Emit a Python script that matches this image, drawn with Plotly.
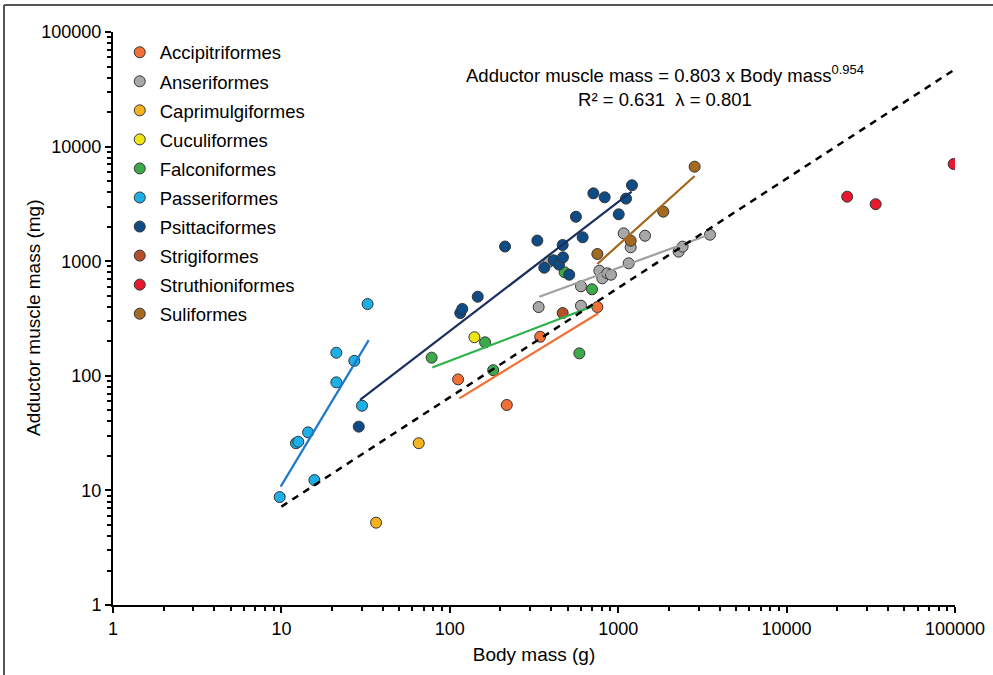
import plotly.graph_objects as go

# ---------------- data (body mass g, adductor muscle mass mg) ----------------
orders = ["Accipitriformes", "Anseriformes", "Caprimulgiformes", "Cuculiformes",
          "Falconiformes", "Passeriformes", "Psittaciformes", "Strigiformes",
          "Struthioniformes", "Suliformes"]

acc_x = [112, 218, 344, 752]
acc_y = [93, 55.6, 219, 398]

ans_x = [337, 388, 601, 601, 773, 805, 862, 906, 1078, 1154, 1186, 1443, 2285, 2414, 3508]
ans_y = [398, 990, 604, 409, 826, 709, 784, 762, 1750, 959, 1322, 1668, 1212, 1340, 1703]

cap_x = [36.5, 65.4]
cap_y = [5.23, 25.8]

cuc_x = [140]
cuc_y = [217]

fal_x = [78, 162, 181, 481, 588, 699]
fal_y = [144, 196, 112, 800, 157, 569]

pas_x = [9.77, 12.2, 12.6, 14.4, 15.7, 21.2, 21.2, 27.1, 30.1, 32.5]
pas_y = [8.75, 25.8, 26.6, 32.1, 12.3, 159, 87.7, 135, 54.8, 423]

psi_x = [28.8, 115.4, 118.6, 146.5, 212.8, 331, 364, 414, 445, 470, 468, 512,
         561, 615, 712, 831, 1007, 1113, 1207]
psi_y = [36.0, 353, 383, 490, 1343, 1514, 877, 1018, 934, 1082, 1385, 762,
         2443, 1617, 3910, 3611, 2566, 3516, 4603]

str_x = [468]
str_y = [353]

stru_x = [22900, 33800, 98200]
stru_y = [3656, 3142, 7050]

sul_x = [752, 1186, 1853, 2844]
sul_y = [1156, 1510, 2705, 6680]

# per-order fitted lines (endpoints)
acc_fit_x = [114, 762]
acc_fit_y = [63.6, 351]
ans_fit_x = [340, 3428]
ans_fit_y = [490, 1693]
fal_fit_x = [78.7, 718]
fal_fit_y = [118, 409]
pas_fit_x = [9.9, 33]
pas_fit_y = [10.8, 205]
psi_fit_x = [29.3, 1202]
psi_fit_y = [61.5, 4042]
sul_fit_x = [752, 2844]
sul_fit_y = [946, 5538]

# overall allometric relationship
coef_a = 0.803
coef_b = 0.954
all_fit_x = [10, 97000]
all_fit_y = [coef_a * v ** coef_b for v in all_fit_x]

tick_vals = [1, 10, 100, 1000, 10000, 100000]
tick_text = ["1", "10", "100", "1000", "10000", "100000"]
minor_vals = [m * 10 ** e for e in range(0, 5) for m in range(2, 10)]

# ---------------- styles ----------------
point_colors = {
    "Accipitriformes": "#F26F35",
    "Anseriformes": "#A8A8A8",
    "Caprimulgiformes": "#F5B120",
    "Cuculiformes": "#EEE41A",
    "Falconiformes": "#3DAA4A",
    "Passeriformes": "#1DAFE6",
    "Psittaciformes": "#0F4C85",
    "Strigiformes": "#B4502A",
    "Struthioniformes": "#E8182F",
    "Suliformes": "#A36A20",
}
series = {
    "Accipitriformes": (acc_x, acc_y),
    "Anseriformes": (ans_x, ans_y),
    "Caprimulgiformes": (cap_x, cap_y),
    "Cuculiformes": (cuc_x, cuc_y),
    "Falconiformes": (fal_x, fal_y),
    "Passeriformes": (pas_x, pas_y),
    "Psittaciformes": (psi_x, psi_y),
    "Strigiformes": (str_x, str_y),
    "Struthioniformes": (stru_x, stru_y),
    "Suliformes": (sul_x, sul_y),
}
fits = [
    (acc_fit_x, acc_fit_y, "#F26F35"),
    (ans_fit_x, ans_fit_y, "#A0A0A0"),
    (fal_fit_x, fal_fit_y, "#2DB24A"),
    (pas_fit_x, pas_fit_y, "#1F78C8"),
    (psi_fit_x, psi_fit_y, "#1B2F5E"),
    (sul_fit_x, sul_fit_y, "#A5651A"),
]

FONT = "Arial, 'Liberation Sans', sans-serif"
PW, PH = 842, 573  # plot area size in px (for paper-coordinate placement)

fig = go.Figure()
for i, name in enumerate(orders):
    xs, ys = series[name]
    fig.add_trace(go.Scatter(
        x=xs, y=ys, mode="markers", name=name, legendgroup=f"g{i}",
        marker=dict(size=11, color=point_colors[name],
                    line=dict(color="#333333", width=1)),
    ))

for fx, fy, col in fits:
    fig.add_trace(go.Scatter(x=fx, y=fy, mode="lines", showlegend=False,
                             line=dict(color=col, width=2.2), hoverinfo="skip"))

fig.add_trace(go.Scatter(x=all_fit_x, y=all_fit_y, mode="lines", showlegend=False,
                         line=dict(color="black", width=2.5, dash="7px,6px"),
                         hoverinfo="skip"))

axis_common = dict(
    type="log", range=[0, 5], showgrid=False, zeroline=False,
    showline=True, linecolor="black", linewidth=2,
    ticks="outside", ticklen=6, tickwidth=1.5, tickcolor="black",
    tickvals=tick_vals, ticktext=tick_text,
    tickfont=dict(family=FONT, size=18, color="black"),
    minor=dict(tickvals=minor_vals, ticks="outside", ticklen=4,
               tickwidth=1.5, tickcolor="black", showgrid=False),
    automargin=False,
)

fig.update_xaxes(**axis_common,
                 title=dict(text="Body mass (g)", standoff=10,
                            font=dict(family=FONT, size=19, color="black")))
fig.update_yaxes(**axis_common)

# y-axis title placed explicitly
fig.add_annotation(
    xref="paper", yref="paper", x=(33 - 113) / PW, y=(605 - 318) / PH,
    text="Adductor muscle mass (mg)", textangle=-90, showarrow=False,
    xanchor="center", yanchor="middle",
    font=dict(family=FONT, size=19, color="black"),
)

fig.add_annotation(
    xref="paper", yref="paper", x=(665 - 113) / PW, y=(605 - 86) / PH,
    text="Adductor muscle mass = 0.803 x Body mass<sup>0.954</sup><br>R² = 0.631  λ = 0.801",
    showarrow=False, align="center", xanchor="center", yanchor="middle",
    font=dict(family=FONT, size=18.5, color="black"),
)

# outer frame (top and left edges)
fig.add_shape(type="line", xref="paper", yref="paper",
              x0=-109 / PW, x1=880 / PW, y0=600 / PH, y1=600 / PH,
              line=dict(color="#555555", width=2))
fig.add_shape(type="line", xref="paper", yref="paper",
              x0=-109 / PW, x1=-109 / PW, y0=600 / PH, y1=-75 / PH,
              line=dict(color="#555555", width=2))

fig.update_layout(
    width=993, height=675,
    margin=dict(l=113, r=38, t=32, b=70, autoexpand=False),
    paper_bgcolor="white", plot_bgcolor="white",
    showlegend=True,
    legend=dict(x=0.008, y=0.997, xanchor="left", yanchor="top",
                font=dict(family=FONT, size=18.5, color="black"),
                tracegroupgap=2, itemsizing="trace",
                bgcolor="rgba(0,0,0,0)"),
    font=dict(family=FONT, color="black"),
)

fig.write_html("out.html")
